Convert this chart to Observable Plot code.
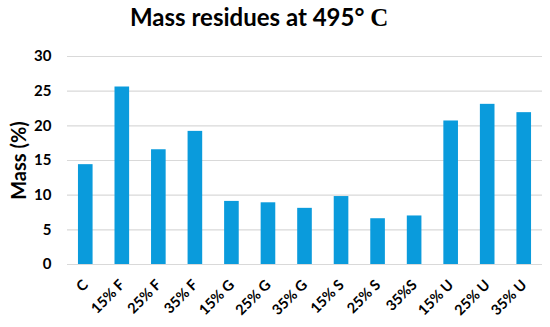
<!DOCTYPE html>
<html>
<head>
<meta charset="utf-8">
<script src="https://cdn.jsdelivr.net/npm/d3@7"></script>
<script src="https://cdn.jsdelivr.net/npm/@observablehq/plot@0.6"></script>
<style>
  html, body { margin: 0; padding: 0; background: #fff; }
  #wrap { width: 550px; }
  #title { height: 36px; line-height: 34px; text-align: left; padding-left: 130px; box-sizing: border-box; white-space: nowrap; font-family: Lato, "Open Sans", sans-serif; font-weight: bold; font-size: 24px; color: #000; }
  #title .c { font-family: "Liberation Serif", "DejaVu Serif", serif; font-size: 25px; }
</style>
</head>
<body>
<div id="wrap">
  <div id="title">Mass residues at 495° <span class="c">C</span></div>
  <div id="chart"></div>
</div>
<script>
const categories = ["C", "15% F", "25% F", "35% F", "15% G", "25% G", "35% G", "15% S", "25% S", "35%S", "15% U", "25% U", "35% U"];
const values = [14.4, 25.6, 16.55, 19.2, 9.1, 8.9, 8.1, 9.8, 6.6, 7.0, 20.7, 23.1, 21.9];
const yTicks = [0, 5, 10, 15, 20, 25, 30];
const yLabel = "Mass (%)";

const data = categories.map((c, i) => ({cat: c, v: values[i]}));

const chart = Plot.plot({
  width: 550,
  height: 291,
  marginTop: 20,
  marginBottom: 63,
  marginLeft: 67,
  marginRight: 8,
  style: {fontFamily: "Lato, 'Open Sans', sans-serif", fontWeight: "bold", color: "#000", background: "#fff"},
  x: {domain: categories, paddingInner: 0.6, paddingOuter: 0.3, round: false, label: null},
  y: {domain: [0, 30], label: null},
  marks: [
    Plot.gridY(yTicks, {stroke: "#d9d9d9", strokeOpacity: 1, strokeWidth: 1.2}),
    Plot.barY(data, {x: "cat", y: "v", fill: "#0a9bdc"}),
    Plot.axisY(yTicks, {tickSize: 0, tickPadding: 16, fontSize: 15, fontWeight: "bold", label: null}),
    Plot.text([yLabel], {frameAnchor: "left", textAnchor: "middle", text: d => d, rotate: -90, dx: -48, fontSize: 20, fontWeight: "bold", fill: "#000"}),
    Plot.axisX({tickSize: 0, tickPadding: 18, tickRotate: -45, fontSize: 14.5, fontWeight: "bold", label: null})
  ]
});
document.getElementById("chart").appendChild(chart);
</script>
</body>
</html>
